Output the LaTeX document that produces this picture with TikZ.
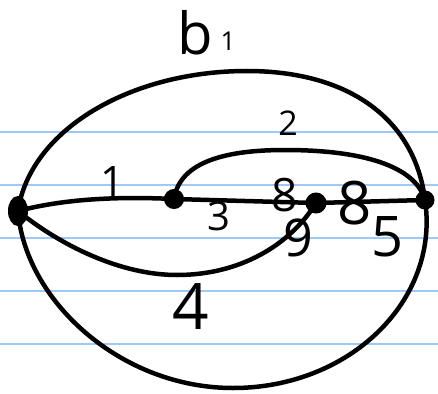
\documentclass[tikz,border=0pt]{standalone}
\usepackage{fontspec}
\setmainfont{Open Sans}
\usetikzlibrary{shapes.geometric}
\definecolor{ruled}{RGB}{158,200,245}
\tikzset{
  vtx/.style={circle,fill=black,draw=black,line width=2pt,inner sep=0pt},
  edge/.style={line width=4.5pt,line cap=round,line join=round},
  lbl/.style={inner sep=0pt,text=black},
  rule/.style={ruled,line width=1.6pt}
}
\newcommand{\fs}[1]{\fontsize{#1}{#1}\selectfont}
\begin{document}
\begin{tikzpicture}[x=1pt,y=-1pt]
\useasboundingbox (0,0) rectangle (438,393);
\fill[white] (0,0) rectangle (438,393);
% ruled paper lines
\foreach \yy in {132,185,238,291,344}
  \draw[rule] (0,\yy) -- (438,\yy);
% vertices
\node[ellipse,fill=black,draw=black,line width=2pt,minimum width=18pt,minimum height=28pt,inner sep=0pt] (L) at (18,211) {};
\node[vtx,minimum width=18pt] (A) at (174,199) {};
\node[vtx,minimum width=19pt] (B) at (316,203) {};
\node[vtx,minimum width=17pt] (R) at (425,200) {};
% outer ellipse (upper and lower arcs)
\draw[edge] (L.center) .. controls (30,130) and (130,71) .. (247,71)
  .. controls (350,71) and (415,120) .. (R.center);
\draw[edge] (L.center) .. controls (25,300) and (120,388) .. (233,388)
  .. controls (350,388) and (440,300) .. (R.center);
% edge 1
\draw[edge] (L.center) .. controls (60,200) and (110,196) .. (A.center);
% edge 3
\draw[edge] (A.center) -- (B.center);
% edge 5
\draw[edge] (B.center) -- (R.center);
% edge 2
\draw[edge] (A.center) .. controls (180,160) and (230,150) .. (285,150)
  .. controls (360,150) and (415,165) .. (R.center);
% edge 4
\draw[edge] (L.center) .. controls (60,245) and (120,275) .. (177,275)
  .. controls (240,275) and (290,245) .. (B.center);
% labels
\node[lbl,font=\fs{58}] (tb) at (195,33) {b};
\node[lbl,font=\fs{26}] (t1) at (228,41) {1};
\node[lbl,font=\fs{42}] (e1) at (113,182) {1};
\node[lbl,font=\fs{34}] (e2) at (288,123) {2};
\node[lbl,font=\fs{40}] (e3) at (219,216) {3};
\node[lbl,font=\fs{46}] (e8a) at (285,195) {8};
\node[lbl,font=\fs{52}] (e9) at (298,238) {9};
\node[lbl,font=\fs{60}] (e8b) at (355,203) {8};
\node[lbl,font=\fs{56}] (e5) at (388,237) {5};
\node[lbl,font=\fs{64}] (e4) at (191,307) {4};
\end{tikzpicture}
\end{document}
